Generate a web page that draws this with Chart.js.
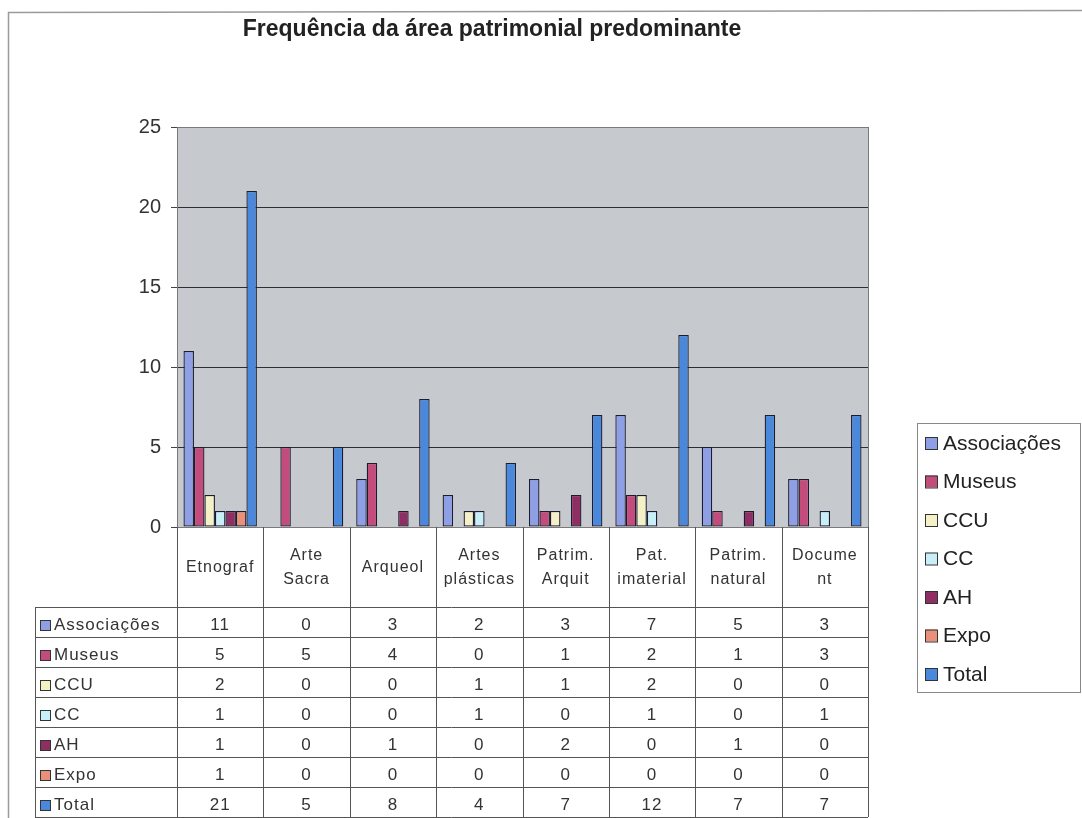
<!DOCTYPE html>
<html>
<head>
<meta charset="utf-8">
<script src="https://cdn.jsdelivr.net/npm/chart.js@4"></script>
<style>
  html, body { margin: 0; padding: 0; background: #fff; }
  #wrap { width: 1082px; height: 818px; }
</style>
</head>
<body>
<div id="wrap"><canvas id="chart"></canvas></div>
<script>
const categories = ["Etnograf", "Arte Sacra", "Arqueol", "Artes plásticas", "Patrim. Arquit", "Pat. imaterial", "Patrim. natural", "Document"];
const categoryLines = [["Etnograf"], ["Arte", "Sacra"], ["Arqueol"], ["Artes", "plásticas"], ["Patrim.", "Arquit"], ["Pat.", "imaterial"], ["Patrim.", "natural"], ["Docume", "nt"]];
const seriesNames = ["Associações", "Museus", "CCU", "CC", "AH", "Expo", "Total"];
const associacoes = [11, 0, 3, 2, 3, 7, 5, 3];
const museus = [5, 5, 4, 0, 1, 2, 1, 3];
const ccu = [2, 0, 0, 1, 1, 2, 0, 0];
const cc = [1, 0, 0, 1, 0, 1, 0, 1];
const ah = [1, 0, 1, 0, 2, 0, 1, 0];
const expo = [1, 0, 0, 0, 0, 0, 0, 0];
const total = [21, 5, 8, 4, 7, 12, 7, 7];
const yTicks = [0, 5, 10, 15, 20, 25];
const colors = ["#8f9fe6", "#c44c7c", "#f4f1c6", "#c8eef8", "#8e2e62", "#e8907a", "#4a88dc"];

const allSeries = [associacoes, museus, ccu, cc, ah, expo, total];
const font = "'Liberation Sans', Arial, sans-serif";

// layout of the scanned sheet
const tableLeft = 35;
const headerBottom = 607;
const rowH = 30;

const sheetPlugin = {
  id: "sheet",
  beforeDraw(chart) {
    const { ctx, chartArea: a } = chart;
    ctx.save();
    ctx.fillStyle = "#c6c9cd";
    ctx.fillRect(a.left, a.top, a.right - a.left, a.bottom - a.top);
    ctx.restore();
  },
  afterDraw(chart) {
    const { ctx, chartArea: a } = chart;
    const x = chart.scales.x;
    const colW = (a.right - a.left) / categories.length;
    ctx.save();

    // outer frame of the scan
    ctx.strokeStyle = "#9a9a9a";
    ctx.lineWidth = 1.5;
    ctx.beginPath();
    ctx.moveTo(8.5, 818);
    ctx.lineTo(8.5, 12.5);
    ctx.lineTo(1082, 10.5);
    ctx.stroke();

    // plot border
    ctx.strokeStyle = "#7a7a7a";
    ctx.lineWidth = 1;
    ctx.strokeRect(a.left + 0.5, a.top + 0.5, a.right - a.left, a.bottom - a.top);

    // title
    ctx.fillStyle = "#222";
    ctx.font = "bold 23px " + font;
    ctx.textAlign = "center";
    ctx.textBaseline = "middle";
    ctx.fillText("Frequência da área patrimonial predominante", 492, 30);

    // table grid
    const bottom = headerBottom + rowH * seriesNames.length;
    ctx.strokeStyle = "#555";
    ctx.lineWidth = 1;
    ctx.beginPath();
    for (let i = 0; i <= categories.length; i++) {
      const px = Math.round(a.left + i * colW) + 0.5;
      ctx.moveTo(px, a.bottom);
      ctx.lineTo(px, bottom);
    }
    ctx.moveTo(tableLeft + 0.5, headerBottom);
    ctx.lineTo(tableLeft + 0.5, bottom);
    for (let r = 0; r <= seriesNames.length; r++) {
      const py = headerBottom + r * rowH + 0.5;
      ctx.moveTo(tableLeft, py);
      ctx.lineTo(a.right, py);
    }
    ctx.stroke();

    // category headers
    ctx.fillStyle = "#333";
    ctx.font = "16px " + font;
    ctx.letterSpacing = "1px";
    ctx.textAlign = "center";
    const headMid = (a.bottom + headerBottom) / 2 + 1;
    categoryLines.forEach((lines, i) => {
      const cx = x.getPixelForValue(i);
      lines.forEach((t, j) => {
        ctx.fillText(t, cx, headMid + (j - (lines.length - 1) / 2) * 24);
      });
    });

    // rows
    ctx.letterSpacing = "1px";
    seriesNames.forEach((name, r) => {
      const cy = headerBottom + r * rowH + rowH / 2 + 3;
      ctx.fillStyle = colors[r];
      ctx.fillRect(tableLeft + 5, cy - 5, 10, 10);
      ctx.strokeStyle = "#333";
      ctx.strokeRect(tableLeft + 5.5, cy - 4.5, 10, 10);
      ctx.fillStyle = "#333";
      ctx.textAlign = "left";
      ctx.font = "17px " + font;
      ctx.fillText(name, tableLeft + 19, cy);
      ctx.textAlign = "center";
      allSeries[r].forEach((v, i) => {
        ctx.fillText(String(v), x.getPixelForValue(i), cy);
      });
    });
    ctx.letterSpacing = "0px";

    // legend box
    const lx = 917, ly = 423, lw = 163, lh = 269;
    ctx.strokeStyle = "#888";
    ctx.strokeRect(lx + 0.5, ly + 0.5, lw, lh);
    ctx.font = "21px " + font;
    ctx.textAlign = "left";
    seriesNames.forEach((name, r) => {
      const cy = ly + 20 + r * 38.5;
      ctx.fillStyle = colors[r];
      ctx.fillRect(lx + 8, cy - 6, 12, 12);
      ctx.strokeStyle = "#333";
      ctx.strokeRect(lx + 8.5, cy - 5.5, 12, 12);
      ctx.fillStyle = "#222";
      ctx.fillText(name, lx + 26, cy + 1);
    });
    ctx.restore();
  }
};

new Chart(document.getElementById("chart"), {
  type: "bar",
  data: {
    labels: categories,
    datasets: seriesNames.map((name, k) => ({
      label: name,
      data: allSeries[k].map((v) => (v === 0 ? null : v)),
      backgroundColor: colors[k],
      borderColor: "#1c1c30",
      borderWidth: 1.3,
      borderSkipped: false,
      categoryPercentage: 0.85,
      barPercentage: 1,
    })),
  },
  options: {
    responsive: true,
    maintainAspectRatio: false,
    animation: false,
    layout: {
      padding: { left: 0, right: 1082 - 868, top: 127, bottom: 818 - 527 },
    },
    plugins: {
      legend: { display: false },
      title: { display: false },
      tooltip: { enabled: false },
    },
    scales: {
      x: {
        display: false,
      },
      y: {
        min: 0,
        max: 25,
        afterBuildTicks(scale) {
          scale.ticks = yTicks.map((v) => ({ value: v }));
        },
        afterFit(scale) {
          scale.width = 177;
        },
        border: { display: true, color: "#444" },
        grid: {
          color: "#2e2e2e",
          lineWidth: 1,
          tickLength: 6,
          tickColor: "#444",
        },
        ticks: {
          color: "#333",
          padding: 10,
          font: { family: font, size: 20 },
        },
      },
    },
  },
  plugins: [sheetPlugin],
});
</script>
</body>
</html>
